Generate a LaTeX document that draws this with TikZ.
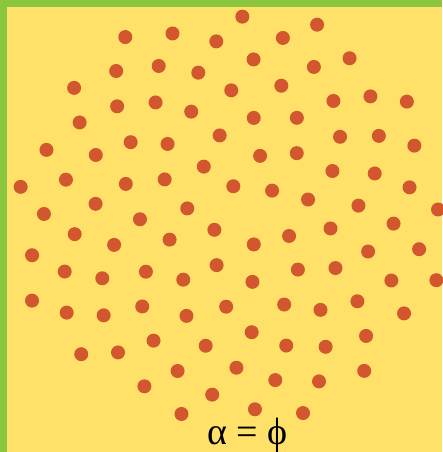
\documentclass[tikz,border=0pt]{standalone}
\usepackage{fontspec}
\newfontfamily\lblfont{Liberation Serif}
\definecolor{bordergreen}{RGB}{138,198,62}
\definecolor{bgyellow}{RGB}{255,225,106}
\definecolor{dotred}{RGB}{210,87,47}
\tikzset{
  seed/.style={fill=dotred},
  lbltext/.style={inner sep=0pt, anchor=base, font=\lblfont\fontsize{38}{45}\selectfont}
}
\begin{document}
\begin{tikzpicture}[x=1pt,y=-1pt]
  \useasboundingbox (0,0) rectangle (442,452);
  \fill[bordergreen] (0,0) rectangle (442,452);
  \fill[bgyellow] (7,7) rectangle (442,452);
  \foreach \n in {1,...,100} {
    \fill[seed] ({230.6+22.0*sqrt(\n)*cos(\n*137.5078)},{215.7+20.9*sqrt(\n)*sin(\n*137.5078)}) circle[radius=7pt];
  }
  \node[lbltext] (lbl) at (247.5,444) {α = ϕ};
\end{tikzpicture}
\end{document}
